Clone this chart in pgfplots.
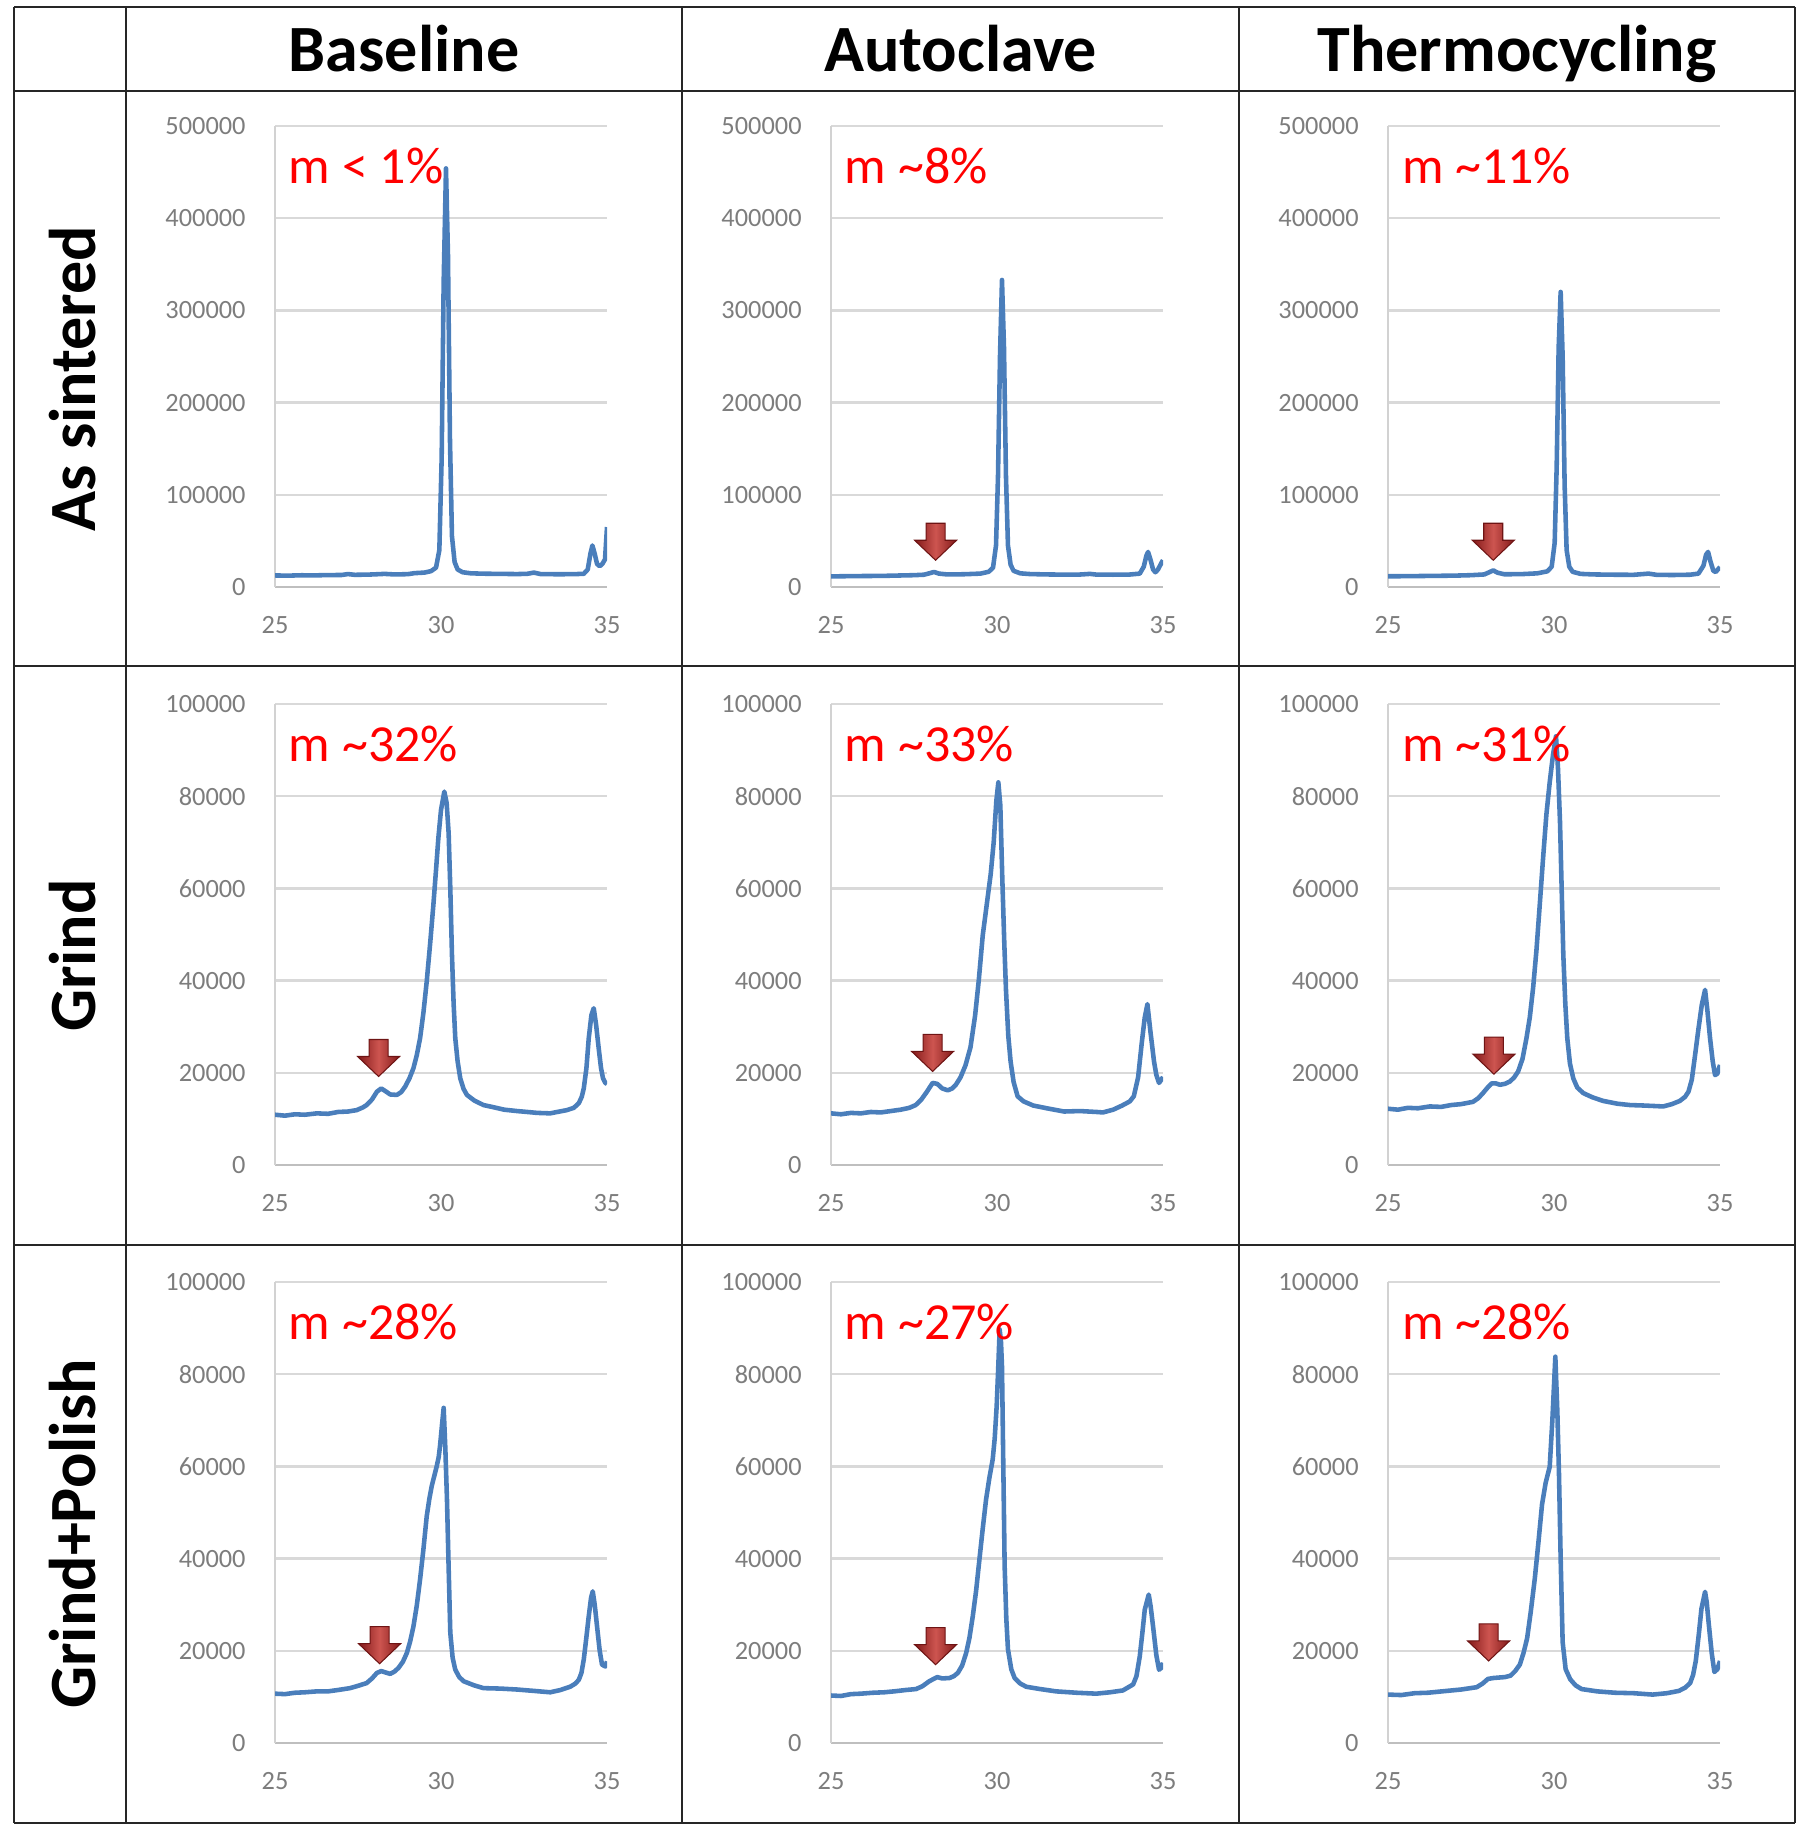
\documentclass[border=0pt]{standalone}
\usepackage{fontspec}
\setmainfont{Carlito}
\usepackage{pgfplots}
\pgfplotsset{compat=1.18}
\definecolor{xrdblue}{RGB}{74,126,187}
\definecolor{ticktext}{RGB}{125,125,125}
\definecolor{gridc}{RGB}{217,217,217}
\definecolor{yaxisc}{RGB}{210,210,210}
\definecolor{xaxisc}{RGB}{191,191,191}
\definecolor{arrdark}{RGB}{130,25,25}
\definecolor{arrlight}{RGB}{205,85,80}
\definecolor{arredge}{RGB}{110,20,20}
\newcommand{\tickfont}{\fontsize{7.5pt}{8pt}\selectfont}
\newcommand{\mfont}{\fontsize{14.8pt}{16pt}\selectfont}
\newcommand{\hfont}{\fontsize{18.8pt}{21pt}\selectfont\bfseries}
\newcommand{\redarrow}[2]{\shade[left color=arrdark, right color=arrdark, middle color=arrlight, draw=arredge, line width=0.3pt]
 (axis cs:#1,#2)
 -- ([shift={(-0.21cm,0.2cm)}]axis cs:#1,#2)
 -- ([shift={(-0.095cm,0.2cm)}]axis cs:#1,#2)
 -- ([shift={(-0.095cm,0.37cm)}]axis cs:#1,#2)
 -- ([shift={(0.095cm,0.37cm)}]axis cs:#1,#2)
 -- ([shift={(0.095cm,0.2cm)}]axis cs:#1,#2)
 -- ([shift={(0.21cm,0.2cm)}]axis cs:#1,#2) -- cycle;}
\newcommand{\mlabel}[1]{\node[anchor=base west, text=red, font=\mfont, inner sep=0pt] at (axis description cs:0.04,0.876) {#1};}
\pgfplotsset{
  xrdline/.style={draw=xrdblue, line width=1.3pt, line join=round, mark=none},
  xrd/.style={
    scale only axis, width=3.32cm, height=4.61cm,
    xmin=25, xmax=35, xtick={25,30,35}, ymin=0,
    axis lines=left, axis line style={-},
    x axis line style={draw=xaxisc, line width=0.7pt},
    y axis line style={draw=yaxisc, line width=0.7pt},
    ymajorgrids, major grid style={draw=gridc, line width=0.7pt},
    major tick length=0pt, tick style={draw=none},
    scaled y ticks=false,
    ticklabel style={font=\tickfont, text=ticktext},
    yticklabel style={/pgf/number format/fixed, /pgf/number format/1000 sep={}, xshift=-0.17cm},
    xticklabel style={yshift=-0.17cm},
    /pgf/number format/assume math mode=true,
  },
  r1/.style={xrd, ymax=500000, ytick={0,100000,200000,300000,400000,500000}},
  r23/.style={xrd, ymax=100000, ytick={0,20000,40000,60000,80000,100000}},
}
\begin{document}
\begin{tikzpicture}
\useasboundingbox (0,0) rectangle (18,18.36);
% table frame
\draw[black!85, line width=0.6pt] (0.14,18.29) -- (17.95,18.29);
\draw[black!85, line width=0.6pt] (0.14,17.45) -- (17.95,17.45);
\draw[black!85, line width=0.6pt] (0.14,11.70) -- (17.95,11.70);
\draw[black!85, line width=0.6pt] (0.14,5.91) -- (17.95,5.91);
\draw[black!85, line width=0.6pt] (0.14,0.13) -- (17.95,0.13);
\draw[black!85, line width=0.6pt] (0.14,0.13) -- (0.14,18.29);
\draw[black!85, line width=0.6pt] (1.26,0.13) -- (1.26,18.29);
\draw[black!85, line width=0.6pt] (6.82,0.13) -- (6.82,18.29);
\draw[black!85, line width=0.6pt] (12.39,0.13) -- (12.39,18.29);
\draw[black!85, line width=0.6pt] (17.95,0.13) -- (17.95,18.29);
% headers
\node[anchor=base, font=\hfont] at (4.04,17.64) {Baseline};
\node[anchor=base, font=\hfont] at (9.605,17.64) {Autoclave};
\node[anchor=base, font=\hfont] at (15.17,17.64) {Thermocycling};
\node[rotate=90, anchor=base, font=\hfont] at (0.95,14.575) {As sintered};
\node[rotate=90, anchor=base, font=\hfont] at (0.95,8.805) {Grind};
\node[rotate=90, anchor=base, font=\hfont] at (0.95,3.02) {Grind+Polish};

% ---------- Row 1 ----------
\begin{axis}[r1, at={(2.75cm,12.49cm)}, anchor=south west]
\addplot[xrdline] coordinates {(25.0,12500)(25.4,12300)(25.8,12700)(26.2,12600)(26.6,12900)(27.0,13000)(27.2,14000)(27.4,13200)(27.8,13400)(28.0,13700)(28.3,14200)(28.6,13600)(29.0,13900)(29.2,15000)(29.5,15600)(29.7,17200)(29.85,21000)(29.95,40000)(30.02,140000)(30.08,330000)(30.15,454000)(30.21,360000)(30.27,160000)(30.33,55000)(30.41,27000)(30.5,19000)(30.65,16000)(30.9,14800)(31.3,14400)(31.8,14200)(32.3,14000)(32.6,14300)(32.8,15600)(33.0,14000)(33.5,13800)(34.0,13900)(34.3,14300)(34.42,19000)(34.5,36000)(34.56,45000)(34.63,36000)(34.7,25000)(34.78,22500)(34.86,25000)(34.94,30000)(35.0,65000)};
\mlabel{m \textless{} 1\%}
\end{axis}

\begin{axis}[r1, at={(8.31cm,12.49cm)}, anchor=south west]
\addplot[xrdline] coordinates {(25.0,11500)(25.5,11700)(26.0,11900)(26.5,12000)(27.0,12400)(27.5,12800)(27.8,13300)(28.0,15200)(28.1,16300)(28.25,14500)(28.5,13600)(29.0,13800)(29.5,14500)(29.75,16500)(29.88,21000)(29.97,45000)(30.03,120000)(30.09,250000)(30.15,333000)(30.21,260000)(30.27,120000)(30.33,45000)(30.41,24000)(30.5,17500)(30.7,14800)(31.0,14000)(31.5,13600)(32.0,13400)(32.5,13500)(32.8,14200)(33.0,13400)(33.5,13300)(34.0,13500)(34.3,14500)(34.42,22000)(34.5,34000)(34.55,38000)(34.62,30000)(34.7,19000)(34.77,16000)(34.85,19000)(34.95,26000)(35.0,29000)};
\redarrow{28.15}{29000}
\mlabel{m \textasciitilde 8\%}
\end{axis}

\begin{axis}[r1, at={(13.88cm,12.49cm)}, anchor=south west]
\addplot[xrdline] coordinates {(25.0,11600)(25.5,11700)(26.0,11900)(26.5,12100)(27.0,12300)(27.5,12800)(27.9,13600)(28.05,16000)(28.17,18000)(28.3,15500)(28.5,13800)(29.0,13900)(29.5,14800)(29.8,17000)(29.93,22000)(30.02,48000)(30.08,130000)(30.14,260000)(30.2,320000)(30.26,250000)(30.32,110000)(30.38,40000)(30.46,22000)(30.56,16500)(30.8,14200)(31.2,13600)(31.8,13300)(32.4,13200)(32.85,14500)(33.1,13100)(33.6,13000)(34.1,13300)(34.35,14500)(34.5,23000)(34.58,35000)(34.64,38000)(34.71,28000)(34.8,17500)(34.87,16300)(34.95,19500)(35.0,21700)};
\redarrow{28.17}{29000}
\mlabel{m \textasciitilde 11\%}
\end{axis}

% ---------- Row 2 ----------
\begin{axis}[r23, at={(2.75cm,6.71cm)}, anchor=south west]
\addplot[xrdline] coordinates {(25.0,10900)(25.3,10700)(25.6,11000)(25.9,10900)(26.26,11200)(26.6,11100)(26.9,11500)(27.2,11600)(27.46,11900)(27.65,12500)(27.76,13000)(27.92,14200)(28.07,15900)(28.2,16600)(28.33,16000)(28.47,15300)(28.67,15200)(28.8,15800)(28.92,17000)(29.05,18800)(29.17,21000)(29.27,23800)(29.37,27500)(29.47,33000)(29.57,39800)(29.67,47800)(29.77,56400)(29.85,64000)(29.92,70900)(30.0,77000)(30.1,81000)(30.17,78500)(30.23,72000)(30.28,60000)(30.33,45600)(30.38,35000)(30.43,27500)(30.5,22500)(30.58,18800)(30.68,16500)(30.78,15200)(31.0,14000)(31.28,13000)(31.6,12500)(31.9,12000)(32.29,11700)(32.6,11500)(32.9,11300)(33.29,11200)(33.5,11500)(33.79,11900)(34.0,12400)(34.15,13400)(34.24,14800)(34.3,16600)(34.38,21000)(34.45,27500)(34.53,32500)(34.6,34000)(34.67,30500)(34.75,25300)(34.82,21000)(34.88,18800)(34.95,17800)(35.0,17600)};
\redarrow{28.12}{19200}
\mlabel{m \textasciitilde 32\%}
\end{axis}

\begin{axis}[r23, at={(8.31cm,6.71cm)}, anchor=south west]
\addplot[xrdline] coordinates {(25.0,11200)(25.3,11000)(25.6,11300)(25.9,11200)(26.2,11500)(26.5,11400)(26.8,11700)(27.1,12000)(27.36,12400)(27.55,13000)(27.71,14100)(27.88,15800)(28.06,17800)(28.2,17600)(28.35,16600)(28.52,16200)(28.65,16600)(28.76,17400)(28.9,19000)(29.05,21600)(29.2,25500)(29.34,32400)(29.45,40000)(29.57,49800)(29.7,57000)(29.81,63100)(29.9,70000)(29.98,79000)(30.04,83000)(30.1,78000)(30.16,62000)(30.22,48000)(30.27,38000)(30.34,28000)(30.41,22400)(30.5,18000)(30.62,14900)(30.8,13800)(31.09,12900)(31.5,12300)(32.02,11600)(32.5,11700)(33.0,11500)(33.19,11400)(33.5,12000)(33.77,12900)(34.0,13800)(34.12,14900)(34.25,19000)(34.36,26500)(34.45,32000)(34.53,34900)(34.62,29000)(34.73,22400)(34.8,19500)(34.88,17800)(34.95,18500)(35.0,19100)};
\redarrow{28.06}{20300}
\mlabel{m \textasciitilde 33\%}
\end{axis}

\begin{axis}[r23, at={(13.88cm,6.71cm)}, anchor=south west]
\addplot[xrdline] coordinates {(25.0,12200)(25.3,12000)(25.6,12400)(25.9,12300)(26.26,12700)(26.6,12600)(26.9,13000)(27.2,13200)(27.56,13700)(27.72,14500)(27.86,15600)(28.0,16800)(28.12,17700)(28.25,17700)(28.37,17400)(28.52,17600)(28.67,18100)(28.8,19000)(28.92,20300)(29.05,23000)(29.17,27500)(29.27,32000)(29.37,38400)(29.47,46500)(29.57,56400)(29.67,66500)(29.77,76000)(29.87,83000)(29.97,89000)(30.06,93000)(30.12,86000)(30.18,74500)(30.23,60000)(30.28,45600)(30.34,35000)(30.4,27500)(30.48,22000)(30.58,18800)(30.7,16800)(30.88,15600)(31.15,14700)(31.48,13900)(31.9,13300)(32.29,13000)(32.7,12900)(33.0,12800)(33.29,12700)(33.55,13200)(33.79,13900)(33.95,14800)(34.05,15900)(34.15,18500)(34.25,23900)(34.35,29500)(34.45,34700)(34.55,38000)(34.62,33500)(34.7,27500)(34.78,22500)(34.85,19500)(34.92,19800)(35.0,21700)};
\redarrow{28.19}{19700}
\mlabel{m \textasciitilde 31\%}
\end{axis}

% ---------- Row 3 ----------
\begin{axis}[r23, at={(2.75cm,0.93cm)}, anchor=south west]
\addplot[xrdline] coordinates {(25.0,10700)(25.3,10600)(25.6,10900)(25.9,11000)(26.26,11200)(26.6,11200)(26.9,11500)(27.26,11900)(27.5,12400)(27.76,13000)(27.92,14000)(28.07,15200)(28.2,15600)(28.33,15300)(28.47,15000)(28.6,15500)(28.72,16300)(28.85,17600)(28.97,19500)(29.07,22000)(29.17,25300)(29.27,29800)(29.37,35500)(29.47,42000)(29.57,49200)(29.65,53000)(29.72,55700)(29.8,58000)(29.87,60000)(29.93,62000)(29.97,64400)(30.03,69000)(30.08,72700)(30.13,64000)(30.18,52800)(30.23,38000)(30.28,23900)(30.35,18500)(30.43,15900)(30.55,14300)(30.68,13400)(31.0,12500)(31.28,11900)(31.8,11800)(32.29,11600)(32.8,11300)(33.29,11000)(33.6,11500)(33.89,12200)(34.05,12900)(34.15,13700)(34.23,15200)(34.3,18100)(34.38,23000)(34.45,27500)(34.52,31500)(34.57,32900)(34.63,30000)(34.7,25300)(34.78,20000)(34.85,17000)(34.95,16600)(35.0,17700)};
\redarrow{28.15}{17200}
\mlabel{m \textasciitilde 28\%}
\end{axis}

\begin{axis}[r23, at={(8.31cm,0.93cm)}, anchor=south west]
\addplot[xrdline] coordinates {(25.0,10300)(25.3,10200)(25.6,10600)(25.9,10700)(26.26,10900)(26.6,11000)(26.9,11200)(27.26,11500)(27.56,11700)(27.75,12300)(27.96,13400)(28.2,14300)(28.35,14000)(28.57,14100)(28.7,14500)(28.82,15200)(28.95,16800)(29.07,19500)(29.17,22800)(29.27,27500)(29.37,33000)(29.47,39800)(29.57,46500)(29.67,52800)(29.77,57500)(29.87,61500)(29.93,66000)(29.99,73100)(30.04,82000)(30.08,89700)(30.12,87000)(30.15,81700)(30.19,60000)(30.23,38400)(30.28,27000)(30.33,20300)(30.43,16000)(30.53,14100)(30.7,12900)(30.88,12200)(31.3,11700)(31.78,11200)(32.4,10900)(32.99,10700)(33.4,11000)(33.79,11400)(34.1,12700)(34.2,14500)(34.3,18800)(34.38,24000)(34.45,28900)(34.57,32200)(34.63,29500)(34.7,25300)(34.8,19000)(34.88,15900)(34.95,16300)(35.0,17400)};
\redarrow{28.15}{17000}
\mlabel{m \textasciitilde 27\%}
\end{axis}

\begin{axis}[r23, at={(13.88cm,0.93cm)}, anchor=south west]
\addplot[xrdline] coordinates {(25.0,10500)(25.4,10400)(25.8,10800)(26.2,10900)(26.77,11300)(27.2,11600)(27.67,12100)(27.85,12900)(28.01,13900)(28.18,14100)(28.35,14200)(28.52,14300)(28.69,14600)(28.83,15600)(28.97,17000)(29.08,19500)(29.19,22700)(29.3,28500)(29.42,35600)(29.53,43500)(29.64,51800)(29.75,56500)(29.87,59900)(29.95,70000)(30.04,83800)(30.1,72000)(30.15,58300)(30.2,40000)(30.26,21900)(30.35,16000)(30.49,13800)(30.65,12500)(30.83,11700)(31.3,11200)(31.84,10900)(32.4,10800)(32.97,10500)(33.4,10800)(33.76,11300)(33.95,12000)(34.1,13000)(34.19,14800)(34.27,17800)(34.36,23500)(34.44,29100)(34.55,32800)(34.6,30500)(34.66,25900)(34.75,19500)(34.83,15400)(34.92,16000)(35.0,17800)};
\redarrow{28.03}{17800}
\mlabel{m \textasciitilde 28\%}
\end{axis}
\end{tikzpicture}
\end{document}
